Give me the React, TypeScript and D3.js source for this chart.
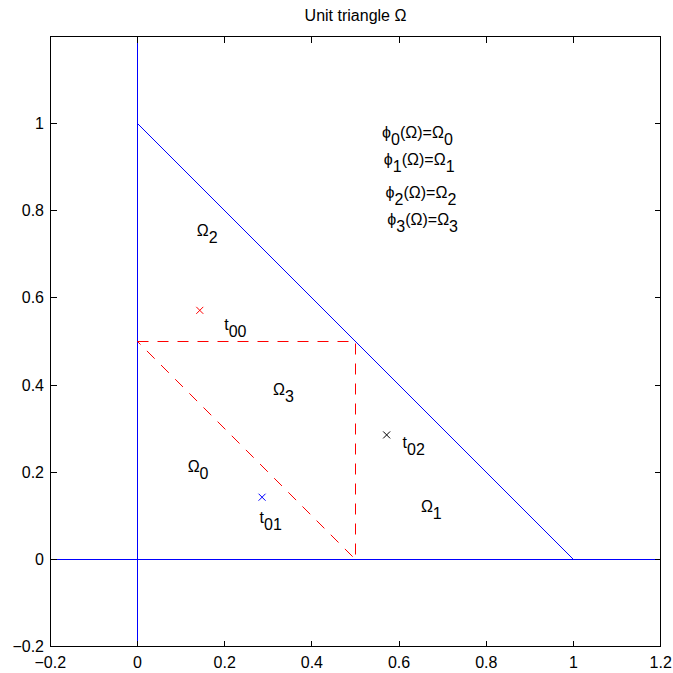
import React from "react";
import * as d3 from "d3";

const xTicks = [-0.2, 0, 0.2, 0.4, 0.6, 0.8, 1, 1.2];
const yTicks = [-0.2, 0, 0.2, 0.4, 0.6, 0.8, 1];
const xDomain = [-0.2, 1.2];
const yDomain = [-0.2, 1.2];

// blue unit triangle lines
const axisLines: [number, number][][] = [
  [[0, -0.2], [0, 1.2]],
  [[-0.2, 0], [1.2, 0]],
];
const hypotenuse: [number, number][] = [[0, 1], [1, 0]];
// red dashed inner triangle
const dashedTri: [number, number][] = [[0, 0.5], [0.5, 0.5], [0.5, 0], [0, 0.5]];

const markers = [
  { x: 1 / 7, y: 4 / 7, color: "#ff0000" },
  { x: 2 / 7, y: 1 / 7, color: "#0000ff" },
  { x: 4 / 7, y: 2 / 7, color: "#000000" },
];

type Seg = { t: string; sub?: boolean };
const PHI = "\u03D5";
const labels: { x: number; y: number; segs: Seg[] }[] = [
  { x: 0.136, y: 0.741, segs: [{ t: "Ω" }, { t: "2", sub: true }] },
  { x: 0.311, y: 0.377, segs: [{ t: "Ω" }, { t: "3", sub: true }] },
  { x: 0.115, y: 0.201, segs: [{ t: "Ω" }, { t: "0", sub: true }] },
  { x: 0.65, y: 0.109, segs: [{ t: "Ω" }, { t: "1", sub: true }] },
  { x: 0.199, y: 0.526, segs: [{ t: "t" }, { t: "00", sub: true }] },
  { x: 0.28, y: 0.083, segs: [{ t: "t" }, { t: "01", sub: true }] },
  { x: 0.608, y: 0.255, segs: [{ t: "t" }, { t: "02", sub: true }] },
  { x: 0.561, y: 0.967, segs: [{ t: PHI }, { t: "0", sub: true }, { t: "(Ω)=Ω" }, { t: "0", sub: true }] },
  { x: 0.565, y: 0.905, segs: [{ t: PHI }, { t: "1", sub: true }, { t: "(Ω)=Ω" }, { t: "1", sub: true }] },
  { x: 0.569, y: 0.829, segs: [{ t: PHI }, { t: "2", sub: true }, { t: "(Ω)=Ω" }, { t: "2", sub: true }] },
  { x: 0.573, y: 0.768, segs: [{ t: PHI }, { t: "3", sub: true }, { t: "(Ω)=Ω" }, { t: "3", sub: true }] },
];

const title = "Unit triangle Ω";

const W = 673;
const H = 673;
const FONT = "'Liberation Sans', Arial, Helvetica, sans-serif";

function fmt(v: number) {
  const s = d3.format("")(Math.round(v * 10) / 10);
  return s.replace("-", "−");
}

export default function App() {
  const x = d3.scaleLinear().domain(xDomain).range([50.3, 660.7]);
  const y = d3.scaleLinear().domain(yDomain).range([646.7, 36.3]);
  const line = d3
    .line<[number, number]>()
    .x((d) => x(d[0]))
    .y((d) => y(d[1]));
  const [x0, x1] = x.range();
  const [y0, y1] = y.range();
  const bx0 = 50.5, bx1 = 660.5, by0 = 646.5, by1 = 36.5;
  const tl = 6;
  const SUB = 7;

  return (
    <svg
      width={W}
      height={H}
      style={{ position: "absolute", left: 0, top: 0, background: "#fff" }}
      fontFamily={FONT}
    >
      <rect x={0} y={0} width={W} height={H} fill="#fff" />
      <text x={(bx0 + bx1) / 2} y={21} textAnchor="middle" fontSize={16} fill="#000">
        {title}
      </text>
      <defs>
        <clipPath id="plot">
          <rect x={bx0} y={by1} width={bx1 - bx0} height={by0 - by1} />
        </clipPath>
      </defs>
      <g clipPath="url(#plot)">
        {axisLines.map((l, i) => (
          <path key={i} d={line(l) || ""} stroke="#0000ff" strokeWidth={1} fill="none" shapeRendering="crispEdges" />
        ))}
        <path d={line(hypotenuse) || ""} stroke="#0000ff" strokeWidth={1} fill="none" />
        <path
          d={line(dashedTri) || ""}
          stroke="#ff0000"
          strokeWidth={1}
          fill="none"
          strokeDasharray="11 9"
        />
        {markers.map((m, i) => {
          const cx = x(m.x);
          const cy = y(m.y);
          const r = 3.5;
          return (
            <path
              key={i}
              d={`M${cx - r},${cy - r}L${cx + r},${cy + r}M${cx - r},${cy + r}L${cx + r},${cy - r}`}
              stroke={m.color}
              strokeWidth={1}
              fill="none"
            />
          );
        })}
      </g>
      {labels.map((lb, i) => (
        <text key={i} x={x(lb.x)} y={y(lb.y)} fontSize={16} fill="#000">
          {lb.segs.map((s, j) => {
            const prevSub = j > 0 && lb.segs[j - 1].sub;
            let dy = 0;
            if (s.sub && !prevSub) dy = SUB;
            if (!s.sub && prevSub) dy = -SUB;
            return (
              <tspan key={j} dy={dy}>
                {s.t}
              </tspan>
            );
          })}
        </text>
      ))}
      {/* axes box */}
      <rect x={bx0} y={by1} width={bx1 - bx0} height={by0 - by1} fill="none" stroke="#000" strokeWidth={1} shapeRendering="crispEdges" />
      {xTicks.map((t, i) => (
        <g key={"x" + i} shapeRendering="crispEdges">
          <line x1={x(t)} x2={x(t)} y1={by0} y2={by0 - tl} stroke="#000" />
          <line x1={x(t)} x2={x(t)} y1={by1} y2={by1 + tl} stroke="#000" />
          <text x={x(t)} y={667.5} textAnchor="middle" fontSize={16} fill="#000">
            {fmt(t)}
          </text>
        </g>
      ))}
      {yTicks.map((t, i) => (
        <g key={"y" + i} shapeRendering="crispEdges">
          <line x1={bx0} x2={bx0 + tl} y1={y(t)} y2={y(t)} stroke="#000" />
          <line x1={bx1} x2={bx1 - tl} y1={y(t)} y2={y(t)} stroke="#000" />
          <text x={44} y={y(t) + 5.5} textAnchor="end" fontSize={16} fill="#000">
            {fmt(t)}
          </text>
        </g>
      ))}
    </svg>
  );
}
